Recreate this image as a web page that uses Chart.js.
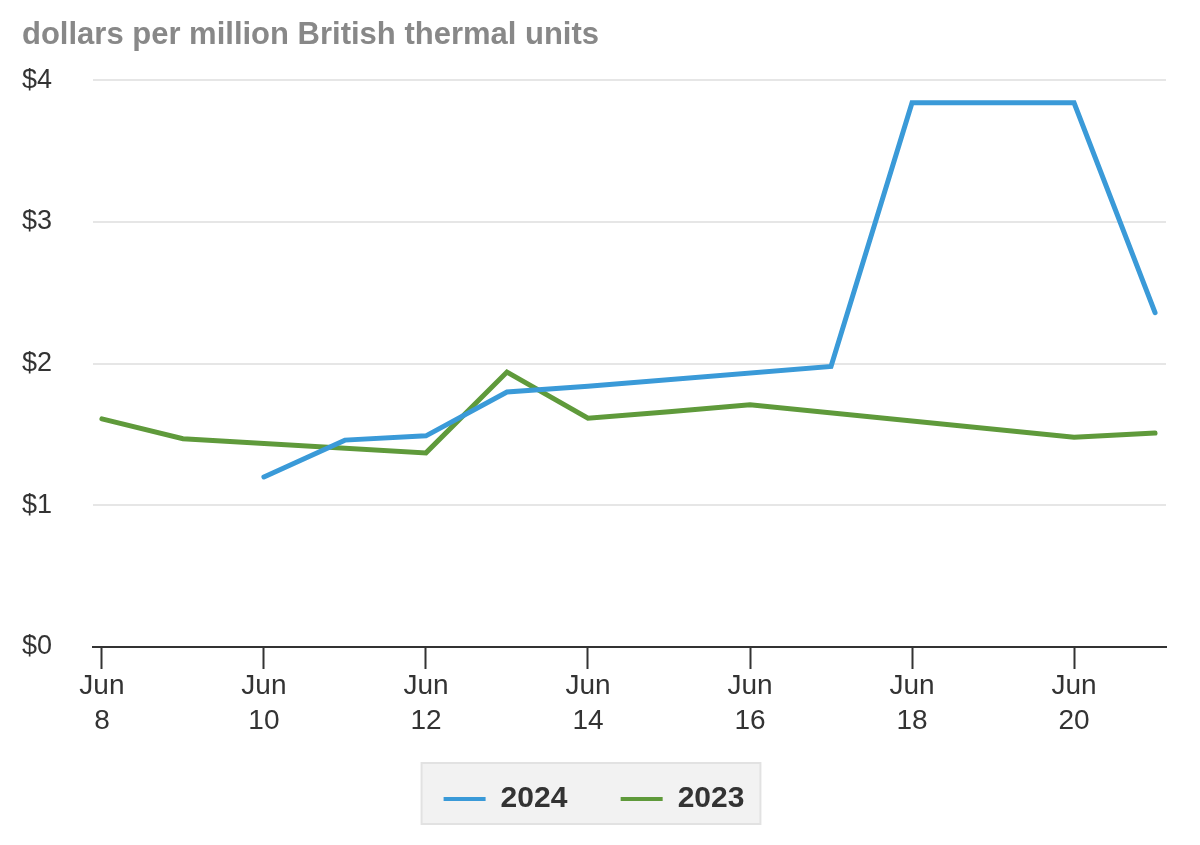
<!DOCTYPE html>
<html>
<head>
<meta charset="utf-8">
<title>Natural gas spot price, June 2024 vs 2023</title>
<script src="https://cdn.jsdelivr.net/npm/chart.js@4.4.1/dist/chart.umd.min.js"></script>
<style>
  html, body { margin: 0; padding: 0; background: #fff; }
  #wrap { width: 1200px; height: 845px; }
</style>
</head>
<body>
<div id="wrap"><canvas id="priceChart"></canvas></div>
<script>
// Tanggal Juni (hari) dan harga, null = hari tanpa perdagangan
const days = [8, 9, 10, 11, 12, 13, 14, 15, 16, 17, 18, 19, 20, 21];
const price2024 = [null, null, 1.20, 1.46, 1.49, 1.80, 1.84, null, null, 1.98, 3.84, null, 3.84, 2.36];
const price2023 = [1.61, 1.47, null, null, 1.37, 1.94, 1.615, 1.66, 1.71, null, null, null, 1.48, 1.51];
const tickDays = [8, 10, 12, 14, 16, 18, 20];
const yTicks = [0, 1, 2, 3, 4];
const seriesNames = ["2024", "2023"];

const FONT = "'Liberation Sans', Arial, Helvetica, sans-serif";
const blue = "#3a9ad8";
const green = "#5f9a3b";

function toPoints(values) {
  return days.map((d, i) => ({ x: d, y: values[i] }));
}

// Kotak abu-abu di belakang legenda
const legendBoxPlugin = {
  id: "legendBox",
  beforeDraw(chart) {
    const boxes = chart.legend && chart.legend.legendHitBoxes;
    if (!boxes || !boxes.length) return;
    const first = boxes[0];
    const last = boxes[boxes.length - 1];
    const left = first.left - 22;
    const right = last.left + last.width + 16;
    const midY = first.top + first.height / 2;
    const ctx = chart.ctx;
    ctx.save();
    ctx.fillStyle = "#f2f2f2";
    ctx.strokeStyle = "#e2e2e2";
    ctx.lineWidth = 2;
    ctx.fillRect(left, midY - 36, right - left, 61);
    ctx.strokeRect(left, midY - 36, right - left, 61);
    ctx.restore();
  }
};

const chartCtx = document.getElementById("priceChart").getContext("2d");
const priceChart = new Chart(chartCtx, {
  type: "line",
  data: {
    datasets: [
      {
        label: seriesNames[0],
        data: toPoints(price2024),
        borderColor: blue,
        backgroundColor: blue,
        borderWidth: 5,
        borderCapStyle: "round",
        pointRadius: 0,
        tension: 0,
        spanGaps: true
      },
      {
        label: seriesNames[1],
        data: toPoints(price2023),
        borderColor: green,
        backgroundColor: green,
        borderWidth: 5,
        borderCapStyle: "round",
        pointRadius: 0,
        tension: 0,
        spanGaps: true
      }
    ]
  },
  options: {
    responsive: true,
    maintainAspectRatio: false,
    animation: false,
    layout: { padding: { left: 22, right: 34, top: 0, bottom: 21 } },
    plugins: {
      title: {
        display: true,
        text: "dollars per million British thermal units",
        align: "start",
        color: "#888888",
        font: { family: FONT, size: 31, weight: "bold" },
        padding: { top: 17, bottom: 26 }
      },
      legend: {
        position: "bottom",
        labels: {
          color: "#333333",
          font: { family: FONT, size: 30, weight: "bold" },
          boxWidth: 42,
          boxHeight: 4,
          padding: 45,
          generateLabels(chart) {
            const n = chart.data.datasets.length;
            // spasi di belakang untuk jarak antar item
            return chart.data.datasets.map((ds, i) => ({
              text: ds.label + (i < n - 1 ? " " : ""),
              fillStyle: ds.borderColor,
              strokeStyle: ds.borderColor,
              fontColor: "#333333",
              lineWidth: 0,
              hidden: false,
              datasetIndex: i
            }));
          }
        }
      },
      tooltip: { enabled: false }
    },
    scales: {
      x: {
        type: "linear",
        min: 7.89,
        max: 21.135,
        afterBuildTicks(axis) {
          axis.ticks = tickDays.map(v => ({ value: v }));
        },
        afterFit(axis) {
          axis.height = 92;
        },
        ticks: {
          autoSkip: false,
          maxRotation: 0,
          padding: 0,
          color: "#333333",
          font: { family: FONT, size: 28, lineHeight: 1.25 },
          callback: (v) => ["Jun", String(v)]
        },
        grid: {
          drawOnChartArea: false,
          drawTicks: true,
          tickLength: 22,
          tickWidth: 2,
          tickColor: "#333333"
        },
        border: { display: true, color: "#333333", width: 2 }
      },
      y: {
        min: 0,
        max: 4,
        afterBuildTicks(axis) {
          axis.ticks = yTicks.map(v => ({ value: v }));
        },
        afterFit(axis) {
          axis.width = 71;
        },
        ticks: {
          crossAlign: "far",
          color: "#333333",
          font: { family: FONT, size: 27 },
          callback: (v) => "$" + v
        },
        grid: {
          color: "#e6e6e6",
          lineWidth: 2,
          drawTicks: false
        },
        border: { display: false }
      }
    }
  },
  plugins: [legendBoxPlugin]
});
</script>
</body>
</html>
